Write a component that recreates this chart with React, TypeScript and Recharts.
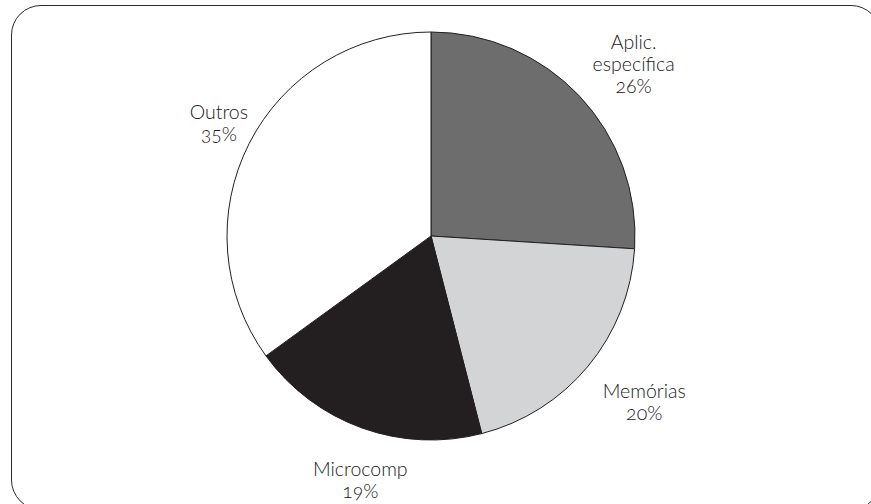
import { PieChart, Pie, Cell } from 'recharts';

const categories = ['Aplic.\nespecífica', 'Memórias', 'Microcomp', 'Outros'];
const shares = [26, 20, 19, 35];
const sliceColors = ['#6d6d6d', '#d3d4d6', '#231f20', '#ffffff'];

const data = categories.map((name, i) => ({ name, value: shares[i] }));

const RADIAN = Math.PI / 180;

// label text block sits outside the slice, centred on the mid angle
function renderLabel(props: any) {
  const { cx, cy, midAngle, outerRadius, name, value } = props;
  const r = outerRadius + 52;
  const x = cx + r * Math.cos(-midAngle * RADIAN) + 16;
  const y = cy + r * Math.sin(-midAngle * RADIAN) + 4;
  const lines = [...String(name).split('\n'), `${value}%`];
  const lh = 22;
  const top = y - ((lines.length - 1) * lh) / 2 + 6;
  return (
    <text
      x={x}
      y={top}
      textAnchor="middle"
      fill="#1a1718"
      style={{ fontFamily: 'Lato, sans-serif', fontSize: 19.5, fontWeight: 300, fontFeatureSettings: '"onum"' }}
    >
      {lines.map((l, i) => (
        <tspan key={i} x={x} dy={i === 0 ? 0 : lh}>
          {l}
        </tspan>
      ))}
    </text>
  );
}

export default function App() {
  return (
    <div style={{ position: 'absolute', left: 0, top: 0, width: 871, height: 504, overflow: 'hidden', background: '#fff' }}>
      <div
        style={{
          position: 'absolute',
          left: 11,
          top: 5,
          width: 870,
          height: 505,
          border: '1.5px solid #2a2a2a',
          borderRadius: 30,
          boxSizing: 'border-box',
        }}
      />
      <PieChart width={871} height={504} style={{ position: 'absolute', left: 0, top: 0 }}>
        <Pie
          data={data}
          dataKey="value"
          nameKey="name"
          cx={426}
          cy={231}
          outerRadius={204}
          startAngle={90}
          endAngle={-270}
          stroke="#231f20"
          strokeWidth={1}
          label={renderLabel}
          labelLine={false}
          isAnimationActive={false}
        >
          {data.map((d, i) => (
            <Cell key={d.name} fill={sliceColors[i]} />
          ))}
        </Pie>
      </PieChart>
    </div>
  );
}
